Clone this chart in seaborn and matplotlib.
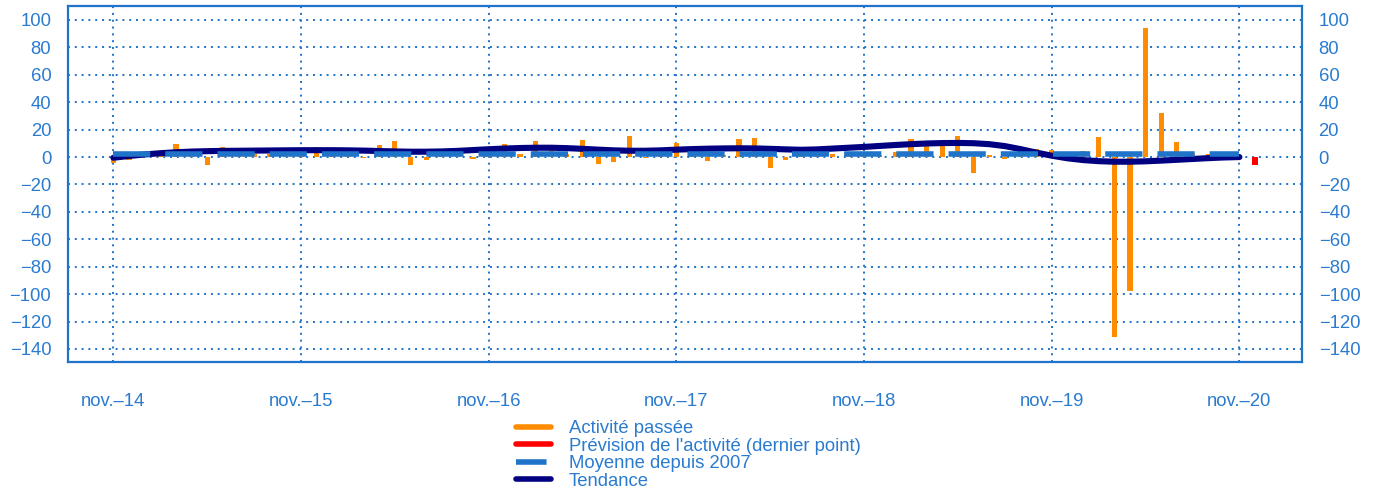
import numpy as np
import pandas as pd
import seaborn as sns
import matplotlib.pyplot as plt
from matplotlib.lines import Line2D

# monthly activity, nov-14 .. nov-20 (73 months), then the forecast point
activite = [-4, -2.5, 1, 2, 9.5, 2, -6, 7, 1.5, 2, 2.5, 1,
            2, 7, 3, 2, -1, 8.5, 11.5, -6, -2.5, 5.5, 1, -1.5,
            2, 9.5, 2, 11.5, 9, 2, 12.5, -5, -3.5, 15, -1, 2,
            10.5, 2, -3, 1.5, 13, 14, -8, -2, 1.5, 6, 2, 3,
            2, 1.5, 3.5, 13, 10, 12, 15, -11.5, 1.5, -1.5, 7.5, 6,
            5, 2, 4.5, 14.5, -131, -98, 94.5, 32, 11, 3, 2, 2.5,
            -1]
prevision = [-5.5]
tendance = [-0.5, 0.8, 1.9, 2.8, 3.5, 4, 4.3, 4.5, 4.6, 4.7, 4.8, 4.9,
            5, 5, 5, 4.9, 4.7, 4.4, 4.1, 3.9, 3.9, 4.1, 4.5, 5.1,
            5.7, 6.2, 6.6, 6.8, 6.8, 6.5, 6, 5.4, 4.9, 4.6, 4.6, 4.9,
            5.4, 5.8, 6.1, 6.3, 6.4, 6.3, 6.0, 5.6, 5.3, 5.6, 6.2, 6.8,
            7.4, 8.1, 8.8, 9.4, 9.9, 10.2, 10.3, 10.1, 9.4, 8.0, 5.8, 3.3,
            1.0, -0.9, -2.2, -3.0, -3.4, -3.4, -3.1, -2.6, -2.0, -1.4, -0.8, -0.3,
            0]
moyenne = 2.5
tick_labels = ['nov.\u201314', 'nov.\u201315', 'nov.\u201316', 'nov.\u201317',
               'nov.\u201318', 'nov.\u201319', 'nov.\u201320']

orange = '#ff8c00'
rouge = '#ff0000'
bleu = '#1f73c9'
marine = '#000080'
txt = '#2a7bd0'

sns.set_style('white')
plt.rcParams['font.family'] = ['Liberation Sans', 'DejaVu Sans']

n = len(activite)
df = pd.DataFrame({'mois': np.arange(n + len(prevision)),
                   'valeur': activite + prevision,
                   'type': ['passee'] * n + ['prevision'] * len(prevision)})
df_tend = pd.DataFrame({'mois': np.arange(n), 'valeur': tendance})
df_moy = pd.DataFrame({'mois': [0, n - 1], 'valeur': [moyenne, moyenne]})

fig = plt.figure(figsize=(13.77, 4.90), dpi=100)
ax = fig.add_axes([0.0494, 0.2612, 0.8961, 0.7266])

sns.barplot(data=df, x='mois', y='valeur', hue='type', native_scale=True,
            palette={'passee': orange, 'prevision': rouge}, dodge=False,
            saturation=1, width=0.33, legend=False, ax=ax, zorder=2, linewidth=0)
sns.lineplot(data=df_tend, x='mois', y='valeur', color=marine, lw=4.4,
             ax=ax, zorder=3)
sns.lineplot(data=df_moy, x='mois', y='valeur', color=bleu, lw=4,
             ax=ax, zorder=4, dashes=False)
ax.lines[-1].set_dashes((6.7, 2.7))
ax.lines[-1].set_dash_capstyle('butt')

ax.set_xlim(-2.9, 76)
ax.set_ylim(-149.5, 110.2)
ax.set_xticks(np.arange(0, n, 12))
ax.set_xticklabels(tick_labels)
ax.set_yticks(np.arange(-140, 101, 20))
ax.set_xlabel('')
ax.set_ylabel('')

ax.grid(True, color=bleu, linestyle=(0, (1, 2.5)), lw=1.4, zorder=0)
ax.set_axisbelow(True)
for s in ax.spines.values():
    s.set_color(bleu)
    s.set_linewidth(1.6)

ax.tick_params(axis='x', length=0, pad=22, labelsize=13.3, colors=txt)
ax.tick_params(axis='y', length=0, pad=12, labelsize=13.3, colors=txt,
               labelright=True, right=False)

handles = [Line2D([], [], color=orange, lw=4),
           Line2D([], [], color=rouge, lw=4),
           Line2D([], [], color=bleu, lw=4, dashes=(5.5, 2), dash_capstyle='butt'),
           Line2D([], [], color=marine, lw=4)]
labels = ['Activit\u00e9 pass\u00e9e', "Pr\u00e9vision de l'activit\u00e9 (dernier point)",
          'Moyenne depuis 2007', 'Tendance']
leg = fig.legend(handles, labels, loc='upper left', bbox_to_anchor=(0.375, 0.142),
                 frameon=False, fontsize=13.3, labelspacing=0.02, handlelength=1.9,
                 handletextpad=0.95, borderpad=0, borderaxespad=0)
for t in leg.get_texts():
    t.set_color(txt)

fig.savefig('out.png', dpi=100)
